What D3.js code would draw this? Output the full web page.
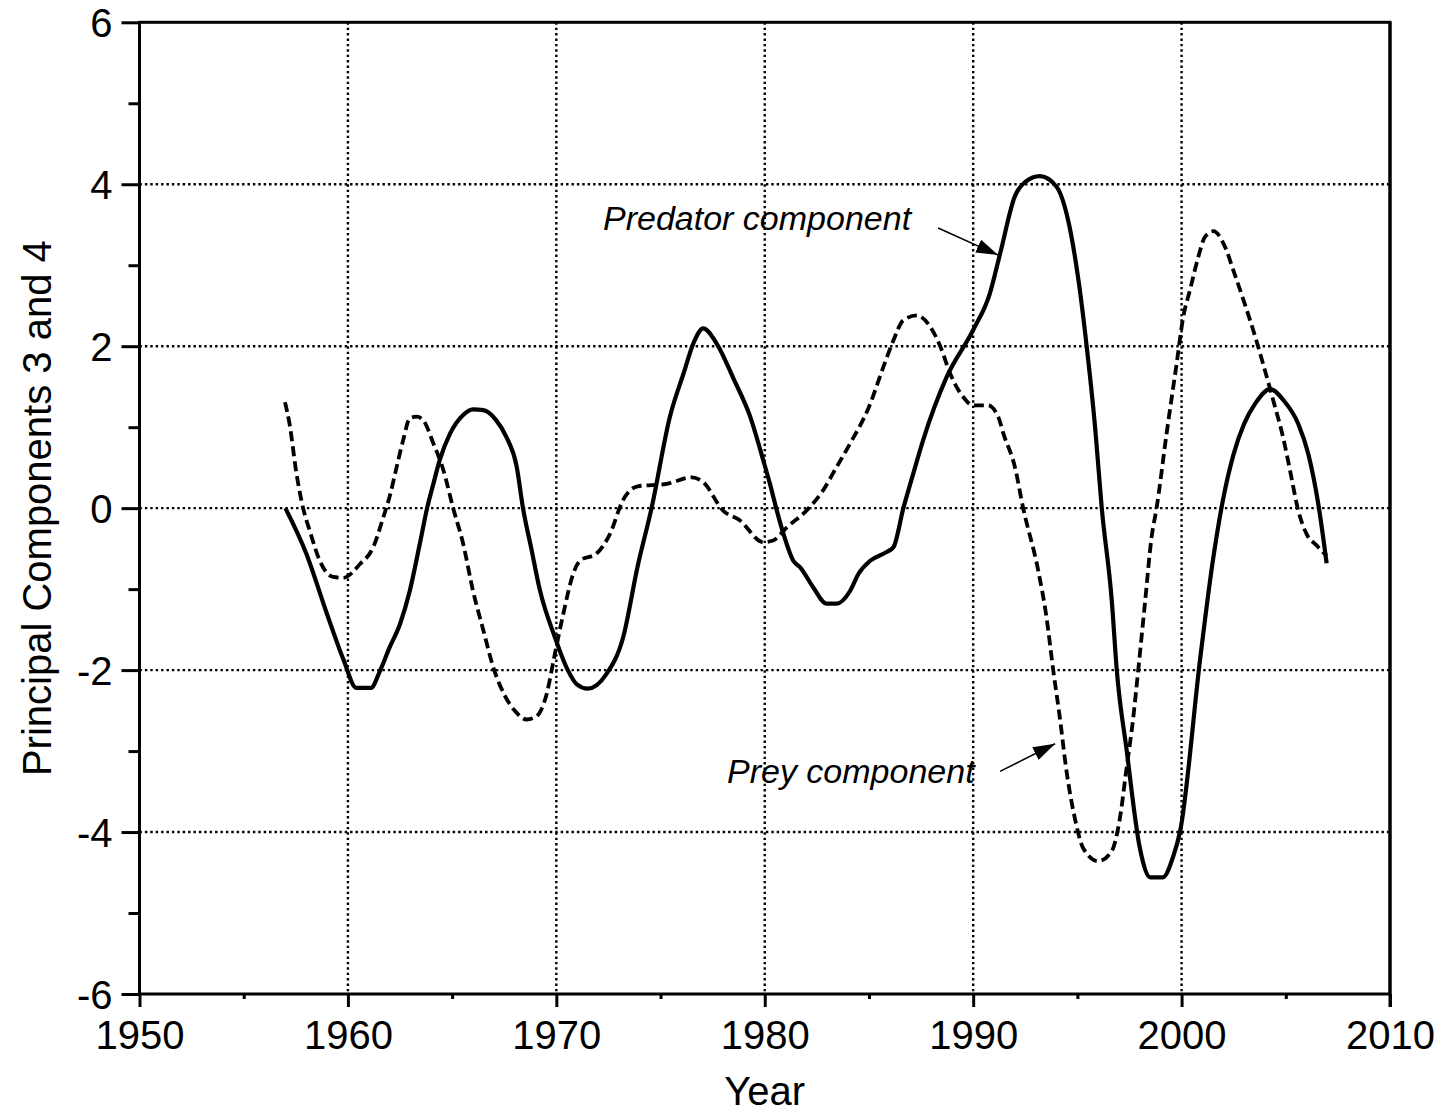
<!DOCTYPE html>
<html>
<head>
<meta charset="utf-8">
<script src="https://cdn.jsdelivr.net/npm/d3@7"></script>
<style>
  body { margin: 0; background: #fff; }
  svg { display: block; font-family: "Liberation Sans", Arial, sans-serif; }
</style>
</head>
<body>
<svg id="chart" width="1435" height="1115"></svg>
<script>
// predator component (solid line)
const predatorYears = [1957.0, 1958.0, 1959.0, 1959.8, 1960.4, 1961.1, 1961.54, 1962.0, 1962.5, 1962.97,
  1963.45, 1963.8, 1964.1, 1964.4, 1964.9, 1965.53, 1966.0, 1966.5, 1967.1, 1967.6,
  1968.1, 1968.4, 1968.8, 1969.2, 1969.94, 1970.55, 1971.0, 1971.5, 1972.4, 1973.2,
  1973.9, 1974.57, 1975.45, 1976.1, 1976.6, 1977.05, 1977.7, 1978.5, 1979.3, 1979.93,
  1980.25, 1980.58, 1980.9, 1981.37, 1981.7, 1982.33, 1982.97, 1983.45, 1984.1, 1984.5,
  1985.06, 1985.86, 1986.18, 1986.65, 1987.13, 1987.6, 1988.73, 1990.0, 1990.8, 1991.3,
  1992.0, 1992.5, 1993.2, 1994.0, 1994.57, 1995.05, 1995.45, 1995.85, 1996.17, 1996.65,
  1996.89, 1997.37, 1998.0, 1998.5, 1999.1, 1999.6, 1999.93, 2000.9, 2001.5, 2002.0,
  2002.5, 2003.0, 2003.53, 2004.25, 2004.9, 2005.6, 2006.08, 2006.56, 2006.96];
const predatorValues = [0, -0.56, -1.31, -1.88, -2.22, -2.22, -2.01, -1.72, -1.43, -1.02,
  -0.44, 0, 0.30, 0.59, 0.92, 1.15, 1.22, 1.21, 1.09, 0.88,
  0.51, 0, -0.5, -1.0, -1.6, -2.0, -2.18, -2.23, -2.05, -1.6,
  -0.72, 0, 1.13, 1.66, 2.05, 2.22, 2.03, 1.6, 1.13, 0.59,
  0.30, -0.03, -0.32, -0.65, -0.73, -0.98, -1.18, -1.18, -1.02, -0.81,
  -0.65, -0.54, -0.48, 0, 0.43, 0.84, 1.62, 2.2, 2.65, 3.15,
  3.85, 4.03, 4.10, 3.97, 3.54, 2.82, 1.99, 1.0, 0, -1.14,
  -2.0, -3.0, -4.2, -4.56, -4.56, -4.3, -3.99, -1.84, -0.65, 0.12,
  0.67, 1.04, 1.29, 1.47, 1.33, 1.04, 0.67, 0.05, -0.68];

// prey component (dashed line)
const preyYears = [1956.98, 1957.2, 1957.53, 1957.85, 1958.17, 1958.65, 1959.29, 1959.77, 1960.58, 1961.22,
  1961.7, 1962.0, 1962.34, 1962.65, 1962.97, 1963.3, 1963.6, 1964.1, 1964.58, 1965.05,
  1965.53, 1966.0, 1966.5, 1966.98, 1967.54, 1968.0, 1968.57, 1969.05, 1969.53, 1969.93,
  1970.33, 1970.81, 1971.13, 1971.93, 1972.57, 1973.2, 1973.9, 1975.3, 1976.5, 1977.05,
  1978.0, 1978.8, 1979.93, 1980.4, 1981.05, 1982.0, 1982.8, 1983.45, 1984.1, 1985.0,
  1985.7, 1986.17, 1986.65, 1987.3, 1987.94, 1988.42, 1988.9, 1989.53, 1990.0, 1990.7,
  1991.2, 1991.45, 1992.0, 1992.4, 1993.12, 1993.52, 1993.84, 1994.16, 1994.48, 1994.88,
  1995.28, 1996.0, 1996.64, 1997.04, 1997.36, 1997.68, 1997.92, 1998.24, 1998.56, 1998.8,
  1999.28, 1999.76, 2000.08, 2000.4, 2000.8, 2001.12, 2001.52, 2002.08, 2002.48, 2002.97,
  2003.53, 2004.0, 2004.4, 2004.9, 2005.2, 2005.6, 2006.0, 2006.48, 2006.96];
const preyValues = [1.31, 1.04, 0.43, 0, -0.28, -0.65, -0.85, -0.86, -0.69, -0.48,
  -0.11, 0.14, 0.51, 0.84, 1.11, 1.13, 1.09, 0.80, 0.47, 0,
  -0.44, -1.02, -1.51, -1.97, -2.32, -2.50, -2.61, -2.57, -2.30, -1.80,
  -1.31, -0.81, -0.65, -0.56, -0.32, 0.1, 0.27, 0.30, 0.38, 0.32,
  -0.03, -0.15, -0.42, -0.40, -0.24, -0.03, 0.22, 0.51, 0.80, 1.25,
  1.75, 2.07, 2.32, 2.38, 2.24, 2.0, 1.66, 1.37, 1.27, 1.27,
  1.13, 0.92, 0.51, 0, -0.77, -1.35, -2.0, -2.59, -3.25, -3.83,
  -4.2, -4.36, -4.24, -3.83, -3.21, -2.59, -2.0, -1.18, -0.36, 0,
  0.92, 1.78, 2.36, 2.69, 3.1, 3.35, 3.42, 3.23, 2.94, 2.57,
  2.12, 1.70, 1.33, 0.84, 0.47, -0.03, -0.32, -0.46, -0.59];

const xMajor = [1950, 1960, 1970, 1980, 1990, 2000, 2010];
const xMinor = [1955, 1965, 1975, 1985, 1995, 2005];
const yMajor = [-6, -4, -2, 0, 2, 4, 6];
const yMinor = [-5, -3, -1, 1, 3, 5];

const notes = [
  { text: "Predator component", x: 1972.24, y: 3.43, from: [1988.32, 3.46], to: [1991.2, 3.125] },
  { text: "Prey component", x: 1978.19, y: -3.40, from: [1991.29, -3.25], to: [1993.93, -2.91] }
];

const margin = { left: 139.5, top: 22.3, right: 45, bottom: 121 };
const W = 1435, H = 1115;
const w = W - margin.left - margin.right;
const h = H - margin.top - margin.bottom;

const svg = d3.select("#chart");
const g = svg.append("g").attr("transform", `translate(${margin.left},${margin.top})`);

const x = d3.scaleLinear().domain([1950, 2010]).range([0, w]);
const y = d3.scaleLinear().domain([-6, 6]).range([h, 0]);

// dotted grid
g.append("g").selectAll("line")
  .data(xMajor.slice(1, -1))
  .join("line")
  .attr("x1", d => x(d)).attr("x2", d => x(d))
  .attr("y1", 0).attr("y2", h)
  .attr("stroke", "#000").attr("stroke-width", 2.4).attr("stroke-dasharray", "2.4,3");
g.append("g").selectAll("line")
  .data(yMajor.slice(1, -1))
  .join("line")
  .attr("y1", d => y(d)).attr("y2", d => y(d))
  .attr("x1", 0).attr("x2", w)
  .attr("stroke", "#000").attr("stroke-width", 2.4).attr("stroke-dasharray", "2.4,3");

// axes
const fmt = d => String(d);
const xAxis = g.append("g").attr("transform", `translate(0,${h})`)
  .call(d3.axisBottom(x).tickValues(xMajor).tickFormat(fmt).tickSize(13).tickPadding(14));
g.append("g").attr("transform", `translate(0,${h})`)
  .call(d3.axisBottom(x).tickValues(xMinor).tickFormat("").tickSize(5));
const yAxis = g.append("g")
  .call(d3.axisLeft(y).tickValues(yMajor).tickFormat(fmt).tickSize(18).tickPadding(9));
g.append("g")
  .call(d3.axisLeft(y).tickValues(yMinor).tickFormat("").tickSize(11));

g.selectAll(".domain").remove();
g.selectAll(".tick line").attr("stroke", "#000").attr("stroke-width", 3);
g.selectAll(".tick text").attr("fill", "#000").style("font-size", "40px");
yAxis.selectAll(".tick text").attr("dy", "0.36em");
xAxis.selectAll(".tick text").attr("dy", "0.71em");

// tick at right bottom corner
g.append("line")
  .attr("x1", x(2010)).attr("x2", x(2010))
  .attr("y1", 0).attr("y2", h + 13)
  .attr("stroke", "#000").attr("stroke-width", 3);

// frame
g.append("rect")
  .attr("width", w).attr("height", h)
  .attr("fill", "none").attr("stroke", "#000").attr("stroke-width", 3);

// series
const line = d3.line()
  .x(d => x(d[0]))
  .y(d => y(d[1]))
  .curve(d3.curveMonotoneX);

g.append("path")
  .datum(d3.zip(preyYears, preyValues))
  .attr("d", line)
  .attr("fill", "none").attr("stroke", "#000")
  .attr("stroke-width", 3.8).attr("stroke-dasharray", "10,5");

g.append("path")
  .datum(d3.zip(predatorYears, predatorValues))
  .attr("d", line)
  .attr("fill", "none").attr("stroke", "#000")
  .attr("stroke-width", 4.2).attr("stroke-linejoin", "round");

// annotations
svg.append("defs").append("marker")
  .attr("id", "head")
  .attr("markerUnits", "userSpaceOnUse")
  .attr("viewBox", "0 0 22 14")
  .attr("refX", 22).attr("refY", 7)
  .attr("markerWidth", 22).attr("markerHeight", 14)
  .attr("orient", "auto")
  .append("path").attr("d", "M0,0L22,7L0,14Z").attr("fill", "#000");

notes.forEach(n => {
  g.append("text")
    .attr("x", x(n.x)).attr("y", y(n.y))
    .style("font-size", "34px").style("font-style", "italic")
    .text(n.text);
  g.append("line")
    .attr("x1", x(n.from[0])).attr("y1", y(n.from[1]))
    .attr("x2", x(n.to[0])).attr("y2", y(n.to[1]))
    .attr("stroke", "#000").attr("stroke-width", 1.5)
    .attr("marker-end", "url(#head)");
});

// axis titles
svg.append("text")
  .attr("x", margin.left + w / 2).attr("y", 1105)
  .attr("text-anchor", "middle")
  .style("font-size", "40px")
  .text("Year");

svg.append("text")
  .attr("transform", `translate(51,${margin.top + h / 2}) rotate(-90)`)
  .attr("text-anchor", "middle")
  .style("font-size", "40px")
  .text("Principal Components 3 and 4");
</script>
</body>
</html>
